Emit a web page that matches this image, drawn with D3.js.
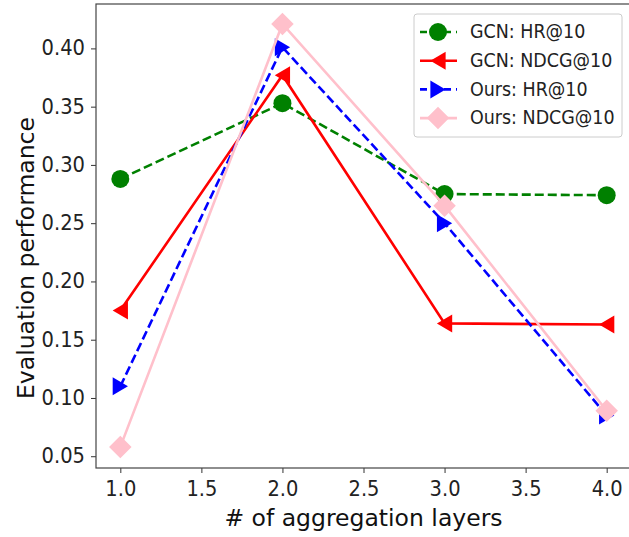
<!DOCTYPE html>
<html>
<head>
<meta charset="utf-8">
<script src="https://cdnjs.cloudflare.com/ajax/libs/d3/7.8.5/d3.min.js"></script>
<style>
  body { margin: 0; background: #fff; }
  svg { font-family: "DejaVu Sans", sans-serif; }
</style>
</head>
<body>
<script>
(function(){

//chart data
var layers = [1, 2, 3, 4];
var gcnHR = [0.288, 0.353, 0.275, 0.274];
var gcnNDCG = [0.175, 0.377, 0.164, 0.163];
var oursHR = [0.110, 0.401, 0.250, 0.085];
var oursNDCG = [0.058, 0.421, 0.265, 0.089];
var xTicks = [1.0, 1.5, 2.0, 2.5, 3.0, 3.5, 4.0];
var yTicks = [0.05, 0.10, 0.15, 0.20, 0.25, 0.30, 0.35, 0.40];

var series = [
    {name: "GCN: HR@10", values: gcnHR, color: "green", dash: "9,4", marker: "circle"},
    {name: "GCN: NDCG@10", values: gcnNDCG, color: "red", dash: null, marker: "left"},
    {name: "Ours: HR@10", values: oursHR, color: "blue", dash: "9,4", marker: "right"},
    {name: "Ours: NDCG@10", values: oursNDCG, color: "pink", dash: null, marker: "diamond"}
];

var width = 629, height = 537;
var margin = {left: 96, top: 4, right: -2, bottom: 69}; //right edge of frame falls off the picture
var stretch = 1.1; //text in the picture is a bit taller than wide

var svg = d3.select("body").append("svg")
    .attr("width", width)
    .attr("height", height);

var x = d3.scaleLinear()
    .domain([0.85, 4.15])
    .range([margin.left, width - margin.right]);

var y = d3.scaleLinear()
    .domain([0.0399, 0.4381])
    .range([height - margin.bottom, margin.top]);

var plot = svg.append("g");

//markers drawn as paths centred on 0,0
function markerPath(type, s){
    var r = s / 2, w = r * 0.85;
    if (type == "circle"){
        return d3.symbol().type(d3.symbolCircle).size(Math.PI * r * r)();
    } else if (type == "left"){
        return "M" + (-w) + ",0L" + w + "," + (-r) + "L" + w + "," + r + "Z";
    } else if (type == "right"){
        return "M" + w + ",0L" + (-w) + "," + (-r) + "L" + (-w) + "," + r + "Z";
    } else {
        var d = r * 1.25;
        return "M0," + (-d) + "L" + d + ",0L0," + d + "L" + (-d) + ",0Z";
    }
}

var line = d3.line()
    .x(function(d){ return x(d[0]); })
    .y(function(d){ return y(d[1]); });

series.forEach(function(s){
    var pts = layers.map(function(l, i){ return [l, s.values[i]]; });
    plot.append("path")
        .datum(pts)
        .attr("d", line)
        .attr("fill", "none")
        .attr("stroke", s.color)
        .attr("stroke-width", 2.6)
        .attr("stroke-dasharray", s.dash);
    plot.selectAll(null)
        .data(pts)
        .enter()
        .append("path")
        .attr("d", markerPath(s.marker, 18))
        .attr("transform", function(d){ return "translate(" + x(d[0]) + "," + y(d[1]) + ")"; })
        .attr("fill", s.color);
});

//axes
var xAxis = svg.append("g")
    .attr("transform", "translate(0," + (height - margin.bottom) + ")")
    .call(d3.axisBottom(x).tickValues(xTicks).tickFormat(d3.format(".1f")).tickSizeOuter(0).tickSize(5));
var yAxis = svg.append("g")
    .attr("transform", "translate(" + margin.left + ",0)")
    .call(d3.axisLeft(y).tickValues(yTicks).tickFormat(d3.format(".2f")).tickSizeOuter(0).tickSize(5));

[xAxis, yAxis].forEach(function(a){
    a.select(".domain").remove();
    a.selectAll("line").attr("stroke", "#333");
    a.selectAll("text")
        .attr("font-size", 19.5)
        .attr("font-family", "DejaVu Sans")
        .attr("fill", "#222")
        .attr("transform", "scale(1," + stretch + ")");
});
xAxis.selectAll("text").attr("y", 28 / stretch).attr("dy", 0);
yAxis.selectAll("text").attr("x", -11).attr("dy", "0.3em");

//frame
svg.append("rect")
    .attr("x", margin.left)
    .attr("y", margin.top)
    .attr("width", width - margin.right - margin.left)
    .attr("height", height - margin.bottom - margin.top)
    .attr("fill", "none")
    .attr("stroke", "#444")
    .attr("stroke-width", 1.2);

//axis titles
svg.append("text")
    .attr("x", x(2.5))
    .attr("y", 526)
    .attr("text-anchor", "middle")
    .attr("font-size", 23.5)
    .attr("fill", "#111")
    .text("# of aggregation layers");

svg.append("text")
    .attr("transform", "translate(34," + ((margin.top + height - margin.bottom) / 2 + 22) + ") rotate(-90)")
    .attr("text-anchor", "middle")
    .attr("font-size", 23.5)
    .attr("fill", "#111")
    .text("Evaluation performance");

//legend
var legend = svg.append("g").attr("transform", "translate(414,14)");
legend.append("rect")
    .attr("width", 208)
    .attr("height", 123)
    .attr("rx", 3)
    .attr("fill", "#fff")
    .attr("fill-opacity", 0.8)
    .attr("stroke", "#ccc");

series.forEach(function(s, i){
    var row = legend.append("g").attr("transform", "translate(0," + (18 + i * 28.7) + ")");
    row.append("line")
        .attr("x1", 6).attr("x2", 43)
        .attr("stroke", s.color)
        .attr("stroke-width", 2.6)
        .attr("stroke-dasharray", s.dash ? "7,5" : null);
    row.append("path")
        .attr("d", markerPath(s.marker, 18))
        .attr("transform", "translate(24,0)")
        .attr("fill", s.color);
    row.append("text")
        .attr("x", 56)
        .attr("dy", "0.33em")
        .attr("font-size", 17.5)
        .attr("fill", "#222")
        .attr("transform", "scale(1," + stretch + ")")
        .text(s.name);
});

})();
</script>
</body>
</html>
